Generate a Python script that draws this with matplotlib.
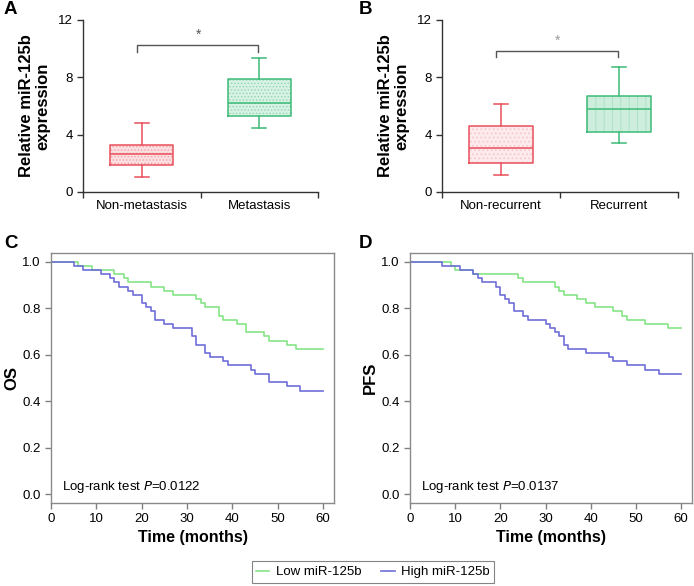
import matplotlib
matplotlib.use('Agg')
import matplotlib.pyplot as plt
from matplotlib.lines import Line2D

plt.rcParams['font.family'] = ['Liberation Sans', 'DejaVu Sans']
plt.rcParams['hatch.linewidth'] = 0.6

# box plot stats: whislo, q1, median, q3, whishi
a_labels = ['Non-metastasis', 'Metastasis']
a_whislo = [1.05, 4.48]
a_q1 = [1.85, 5.31]
a_med = [2.67, 6.18]
a_q3 = [3.30, 7.88]
a_whishi = [4.78, 9.32]

b_labels = ['Non-recurrent', 'Recurrent']
b_whislo = [1.19, 3.40]
b_q1 = [2.03, 4.17]
b_med = [3.05, 5.80]
b_q3 = [4.62, 6.73]
b_whishi = [6.11, 8.74]

# Kaplan-Meier curves (time in months, survival)
c_low_t = [0, 6, 9, 14, 16, 17, 22, 25, 27, 32, 33, 34, 37, 38, 41, 43, 47, 48, 52, 54, 60]
c_low_s = [1.0, .982, .964, .946, .929, .911, .893, .875, .857, .839, .821, .804, .768, .750,
           .732, .696, .679, .661, .643, .625, .625]
c_high_t = [0, 5, 7, 11, 13, 14, 15, 17, 18, 20, 21, 22, 23, 25, 27, 31, 32, 34, 35, 38, 39,
            44, 45, 48, 52, 55, 60]
c_high_s = [1.0, .982, .964, .946, .929, .911, .893, .875, .857, .821, .804, .786, .750, .732,
            .714, .679, .643, .607, .589, .571, .554, .536, .518, .482, .464, .446, .446]

d_low_t = [0, 9, 10, 14, 24, 25, 32, 33, 34, 37, 39, 41, 45, 47, 48, 52, 57, 60]
d_low_s = [1.0, .982, .964, .946, .929, .911, .893, .875, .857, .839, .821, .804, .786, .768,
           .750, .732, .714, .714]
d_high_t = [0, 7, 11, 14, 15, 16, 19, 20, 21, 22, 23, 25, 26, 30, 31, 32, 33, 34, 35, 39, 44,
            45, 48, 52, 55, 60]
d_high_s = [1.0, .982, .964, .946, .929, .911, .893, .857, .839, .821, .786, .768, .750, .732,
            .714, .696, .679, .643, .625, .607, .589, .571, .554, .536, .518, .518]

red = '#e8505c'
green = '#3dba78'
km_green = '#86e486'
km_blue = '#6e6ed8'

W, H = 694, 586
fig = plt.figure(figsize=(W / 100, H / 100), dpi=100)


def px_axes(l, t, r, b):
    return fig.add_axes([l / W, 1 - b / H, (r - l) / W, (b - t) / H])


def box_panel(ax, labels, lo, q1, med, q3, hi, hatches, fills, hatch_cols, star_col, bracket_y):
    stats = []
    for i in range(len(labels)):
        stats.append(dict(whislo=lo[i], q1=q1[i], med=med[i], q3=q3[i], whishi=hi[i], fliers=[]))
    pos = [0.5, 1.5]
    cols = [red, green]
    # hatched fill
    bp = ax.bxp(stats, positions=pos, widths=0.54, patch_artist=True, showfliers=False,
                boxprops=dict(linewidth=0), whiskerprops=dict(linewidth=0),
                capprops=dict(linewidth=0), medianprops=dict(linewidth=0))
    for i, b in enumerate(bp['boxes']):
        b.set_facecolor(fills[i])
        b.set_edgecolor(hatch_cols[i])
        b.set_hatch(hatches[i])
    # outlines
    for i in range(2):
        c = cols[i]
        ax.bxp([stats[i]], positions=[pos[i]], widths=0.54, showfliers=False, capwidths=0.12,
               boxprops=dict(color=c, linewidth=1.1), whiskerprops=dict(color=c, linewidth=1.1),
               capprops=dict(color=c, linewidth=1.1), medianprops=dict(color=c, linewidth=1.1))
    y0, y1 = bracket_y
    ax.plot([0.46, 0.46, 1.49, 1.49], [y1, y0, y0, y1], color='#555555', lw=1.0)
    ax.text(0.98, y0 + 0.25, '*', ha='center', va='bottom', fontsize=10, color=star_col)
    ax.set_xlim(0, 2)
    ax.set_ylim(0, 12)
    ax.set_yticks([0, 4, 8, 12])
    ax.set_xticks([0, 1, 2])
    ax.set_xticklabels([])
    ax.set_xticks(pos, minor=True)
    ax.set_xticklabels(labels, minor=True, fontsize=9.5)
    ax.tick_params(axis='x', which='minor', length=0, pad=6)
    ax.tick_params(axis='both', which='major', length=4, width=1, color='#333333',
                   labelsize=9.5, direction='out')
    for s in ['top', 'right']:
        ax.spines[s].set_visible(False)
    for s in ['left', 'bottom']:
        ax.spines[s].set_color('#333333')
        ax.spines[s].set_linewidth(1)
    ax.set_ylabel('Relative miR-125b\nexpression', fontsize=12, fontweight='bold', labelpad=5,
                  linespacing=1.15)


def km_panel(ax, lt, ls, ht, hs, ylabel, ptext):
    ax.plot(lt, ls, drawstyle='steps-post', color=km_green, lw=1.2)
    ax.plot(ht, hs, drawstyle='steps-post', color=km_blue, lw=1.2)
    ax.set_xlim(0, 62.4)
    ax.set_ylim(-0.037, 1.037)
    ax.set_xticks(range(0, 61, 10))
    ax.set_yticks([0.0, 0.2, 0.4, 0.6, 0.8, 1.0])
    ax.set_yticklabels(['0.0', '0.2', '0.4', '0.6', '0.8', '1.0'])
    ax.tick_params(length=4, width=1, color='#808080', labelsize=9.5, direction='out')
    for s in ax.spines.values():
        s.set_color('#8a8a8a')
        s.set_linewidth(1)
    ax.set_xlabel('Time (months)', fontsize=11.5, fontweight='bold', labelpad=3)
    ax.set_ylabel(ylabel, fontsize=12, fontweight='bold', labelpad=2)
    ax.text(2.4, 0.03, 'Log-rank test $\\it{P}$=' + ptext, fontsize=9.5, va='center')


axA = px_axes(83, 20, 318, 192)
box_panel(axA, a_labels, a_whislo, a_q1, a_med, a_q3, a_whishi,
          ['.....', '.....'], ['#fbe0e2', '#d8f2e4'], ['#f2a0a8', '#8fd6b0'], '#555555',
          (10.26, 9.75))

axB = px_axes(442, 20, 678, 192)
box_panel(axB, b_labels, b_whislo, b_q1, b_med, b_q3, b_whishi,
          ['....', '||'], ['#fdeaec', '#cdeedc'], ['#f7c4c9', '#a8e0c2'], '#999999',
          (9.84, 9.40))

axC = px_axes(51, 253, 334, 503)
km_panel(axC, c_low_t, c_low_s, c_high_t, c_high_s, 'OS', '0.0122')

axD = px_axes(410, 253, 692, 503)
km_panel(axD, d_low_t, d_low_s, d_high_t, d_high_s, 'PFS', '0.0137')

for lab, x, y in [('A', 4, 10), ('B', 359, 10), ('C', 4, 243), ('D', 359, 243)]:
    fig.text(x / W, 1 - y / H, lab, fontsize=13.5, fontweight='bold', va='center', ha='left')

handles = [Line2D([], [], color=km_green, lw=1.2), Line2D([], [], color=km_blue, lw=1.2)]
leg = fig.legend(handles, ['Low miR-125b', 'High miR-125b'], loc='center',
                 bbox_to_anchor=(373 / W, 1 - 572 / H), ncol=2, fontsize=9.5,
                 frameon=True, fancybox=False, handlelength=1.0, columnspacing=1.5,
                 borderpad=0.35, handletextpad=0.5)
leg.get_frame().set_edgecolor('#666666')
leg.get_frame().set_linewidth(0.8)

fig.savefig('out.png', dpi=100)
